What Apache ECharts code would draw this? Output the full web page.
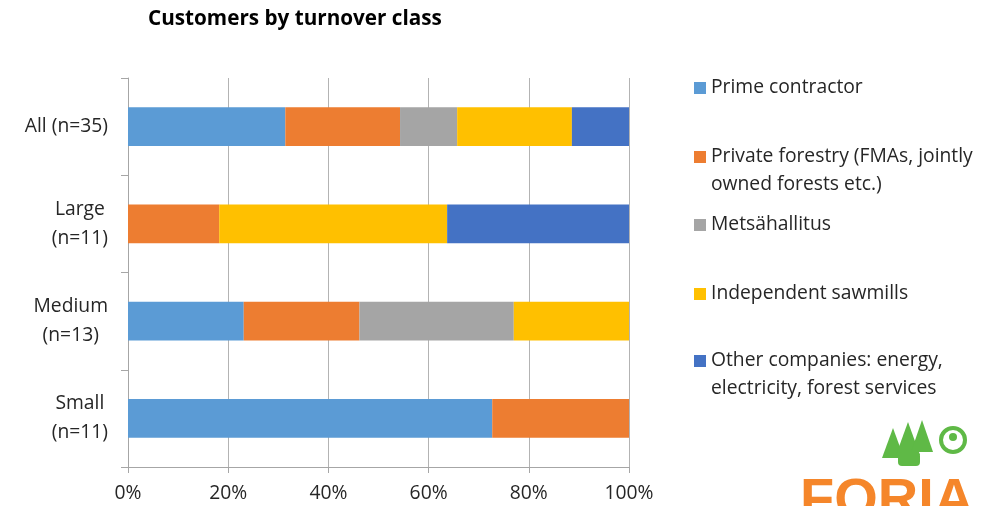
<!DOCTYPE html>
<html>
<head>
<meta charset="utf-8">
<script src="https://cdn.jsdelivr.net/npm/echarts@6/dist/echarts.min.js"></script>
<style>html,body{margin:0;padding:0;background:#fff}#c{width:1004px;height:506px}</style>
</head>
<body>
<div id="c"></div>
<script>
const title = 'Customers by turnover class';
const categories = ['All (n=35)', 'Large\n(n=11)', 'Medium\n(n=13)', 'Small\n(n=11)'];
const seriesNames = ['Prime contractor', 'Private forestry (FMAs, jointly\nowned forests etc.)', 'Metsähallitus', 'Independent sawmills', 'Other companies: energy,\nelectricity, forest services'];
const primeContractor = [31.4, 0, 23.1, 72.7];
const privateForestry = [22.9, 18.2, 23.1, 27.3];
const metsahallitus = [11.4, 0, 30.8, 0];
const independentSawmills = [22.9, 45.5, 23.1, 0];
const otherCompanies = [11.4, 36.4, 0, 0];
const xTicks = [0, 20, 40, 60, 80, 100];

const values = [primeContractor, privateForestry, metsahallitus, independentSawmills, otherCompanies];
const colors = ['#5b9bd5', '#ed7d31', '#a5a5a5', '#ffc000', '#4472c4'];
const FONT = 'Open Sans';
const TXT = '#262626';
const FS = 19.3;
const markerCenters = [88, 157, 225, 294, 361];
const LH = 28;

const legends = seriesNames.map((name, i) => {
  const twoLine = name.indexOf('\n') >= 0;
  return {
    left: 694,
    top: markerCenters[i] - (twoLine ? 1.5 * LH : LH / 2),
    orient: 'vertical',
    padding: 0,
    itemWidth: 12,
    itemHeight: 12,
    icon: 'rect',
    selectedMode: false,
    data: [name],
    formatter: n => (n.indexOf('\n') >= 0 ? '\n' + n : n),
    textStyle: { fontFamily: FONT, fontSize: FS, lineHeight: LH, color: TXT }
  };
});

const chart = echarts.init(document.getElementById('c'), null, { renderer: 'canvas' });
chart.setOption({
  animation: false,
  backgroundColor: '#fff',
  title: {
    text: title, left: 143, top: 4,
    textStyle: { fontFamily: FONT, fontWeight: 'bold', fontSize: 20.7, color: '#000' }
  },
  legend: legends,
  grid: { left: 128, right: 375, top: 78, bottom: 39, containLabel: false },
  xAxis: {
    type: 'value', min: 0, max: 100, interval: 20,
    axisLine: { show: true, lineStyle: { color: '#a6a6a6', width: 1 } },
    axisTick: { show: true, length: 6, lineStyle: { color: '#a6a6a6' } },
    splitLine: { show: true, lineStyle: { color: '#b3b3b3', width: 1 } },
    axisLabel: {
      formatter: v => (xTicks.indexOf(v) >= 0 ? v + '%' : ''),
      fontFamily: FONT, fontSize: FS, color: TXT, margin: 17
    }
  },
  yAxis: {
    type: 'category', inverse: true, data: categories,
    axisLine: { show: true, lineStyle: { color: '#a6a6a6', width: 1 } },
    axisTick: { show: true, length: 7, lineStyle: { color: '#a6a6a6' } },
    axisLabel: {
      margin: 20, align: 'right',
      formatter: v => v.split('\n').map(s => '{c|' + s + '}').join('\n'),
      rich: { c: { align: 'center', fontFamily: FONT, fontSize: FS, lineHeight: 29, color: TXT } }
    }
  },
  series: seriesNames.map((name, i) => ({
    name: name, type: 'bar', stack: 'total', barWidth: '40%',
    data: values[i],
    itemStyle: { color: colors[i] }
  })),
  graphic: [
    { type: 'polygon', shape: { points: [[893, 428], [882, 458], [904, 458]] }, style: { fill: '#5fb946' } },
    { type: 'polygon', shape: { points: [[908, 422], [896, 455], [920, 455]] }, style: { fill: '#5fb946' } },
    { type: 'polygon', shape: { points: [[922, 420], [911, 452], [933, 452]] }, style: { fill: '#5fb946' } },
    { type: 'circle', shape: { cx: 953, cy: 440, r: 12 }, style: { fill: 'none', stroke: '#5fb946', lineWidth: 4 } },
    { type: 'circle', shape: { cx: 953, cy: 437, r: 4 }, style: { fill: '#5fb946' } },
    { type: 'rect', shape: { x: 898, y: 452, width: 22, height: 14, r: 4 }, style: { fill: '#5fb946' } },
    { type: 'text', left: 800, top: 474, style: { text: 'FORIA', fontFamily: 'Liberation Sans', fontWeight: 'bold', fontSize: 56, fill: '#f5862a' } }
  ]
});
</script>
</body>
</html>
